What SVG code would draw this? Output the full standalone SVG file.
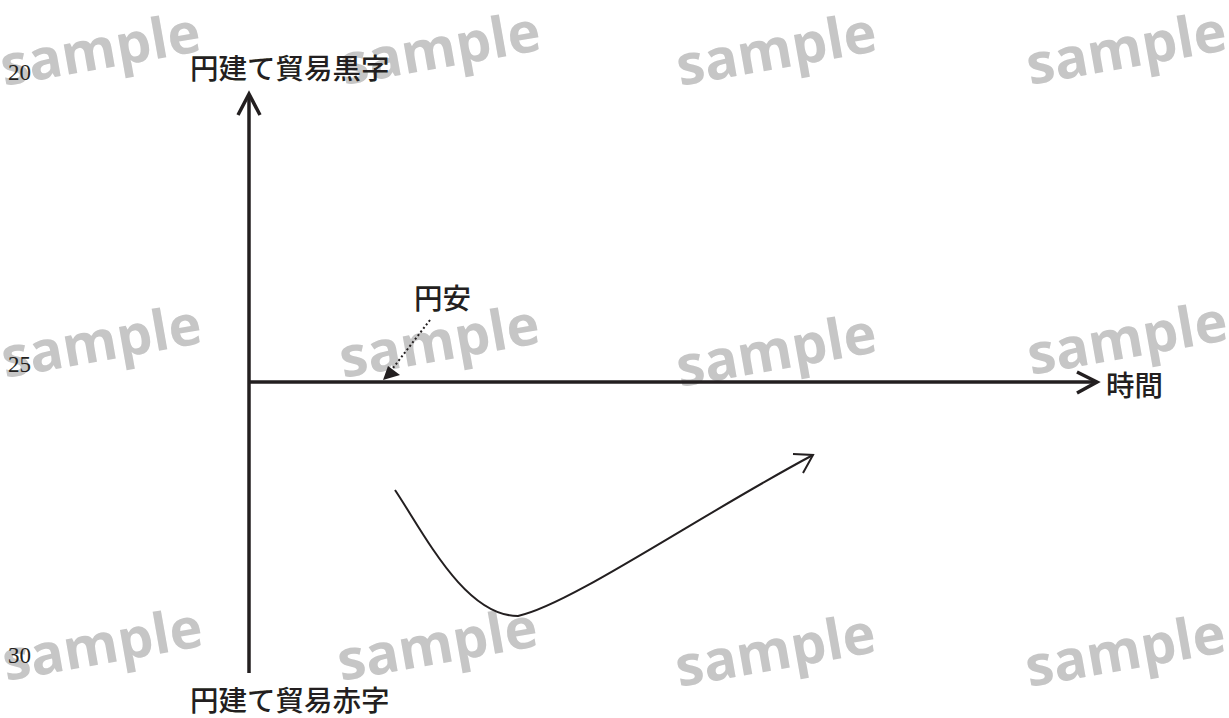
<svg xmlns="http://www.w3.org/2000/svg" width="1229" height="718" viewBox="0 0 1229 718">
<defs>
<style>
.wm{font-family:"Open Sans","Liberation Sans",sans-serif;font-weight:700;font-size:56px;fill:#c6c6c6}
.jp{font-family:"Noto Sans CJK JP","Noto Sans",sans-serif;font-size:28.5px;font-weight:500;fill:#231f20}
.num{font-family:"Liberation Serif",serif;font-size:23px;fill:#231f20}
.axis{stroke:#231f20;stroke-width:3.5;fill:none}
.head{stroke:#231f20;stroke-width:3.5;fill:none;stroke-linejoin:miter;stroke-linecap:butt}
</style>
</defs>
<rect width="1229" height="718" fill="#ffffff"/>
<g id="watermarks">
<text class="wm" transform="translate(4,86) rotate(-10)">sample</text>
<text class="wm" transform="translate(344,85) rotate(-10)">sample</text>
<text class="wm" transform="translate(680,86) rotate(-10)">sample</text>
<text class="wm" transform="translate(1030,85) rotate(-10)">sample</text>
<text class="wm" transform="translate(5,378) rotate(-10)">sample</text>
<text class="wm" transform="translate(343,378) rotate(-10)">sample</text>
<text class="wm" transform="translate(680,387) rotate(-10)">sample</text>
<text class="wm" transform="translate(1031,375) rotate(-10)">sample</text>
<text class="wm" transform="translate(6,681) rotate(-10)">sample</text>
<text class="wm" transform="translate(341,681) rotate(-10)">sample</text>
<text class="wm" transform="translate(679,687) rotate(-10)">sample</text>
<text class="wm" transform="translate(1029,687) rotate(-10)">sample</text>
</g>
<g id="line-numbers">
<text class="num" x="8" y="80">20</text>
<text class="num" x="8" y="372">25</text>
<text class="num" x="8" y="663">30</text>
</g>
<g id="connectors">
<line class="axis" x1="249" y1="673" x2="249" y2="94"/>
<polyline class="head" points="238,115 249,94 260,115"/>
<line class="axis" x1="249" y1="382" x2="1096" y2="382"/>
<polyline class="head" points="1077,372 1097,382 1077,393"/>
<line x1="430" y1="320" x2="393" y2="368" stroke="#231f20" stroke-width="2" stroke-dasharray="2 2.5"/>
<polygon points="383,380 388,366 400,375" fill="#231f20"/>
<path d="M395,490 C425,535 465,616 518,616 C570,605 700,515 813,455" fill="none" stroke="#231f20" stroke-width="2"/>
<polyline points="793,454 813,455 803,473" fill="none" stroke="#231f20" stroke-width="2"/>
</g>
<g id="label-surplus"><text class="jp" x="190" y="79">円建て貿易黒字</text></g>
<g id="label-deficit"><text class="jp" x="190" y="711">円建て貿易赤字</text></g>
<g id="label-time"><text class="jp" x="1106" y="396">時間</text></g>
<g id="label-yen-weak"><text class="jp" x="414" y="309">円安</text></g>
</svg>
